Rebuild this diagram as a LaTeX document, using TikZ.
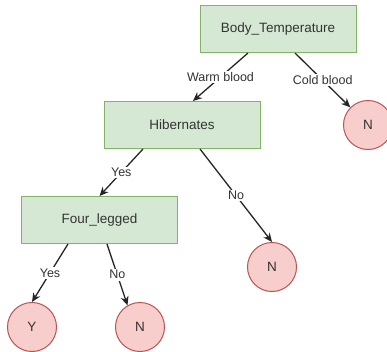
\documentclass[tikz,border=0pt]{standalone}
\usepackage{fontspec}
\setmainfont{Liberation Sans}
\usetikzlibrary{arrows.meta}
\definecolor{boxfill}{HTML}{D5E8D4}
\definecolor{boxline}{HTML}{82B366}
\definecolor{cfill}{HTML}{F8CECC}
\definecolor{cline}{HTML}{B85450}
\definecolor{txt}{HTML}{333333}
\tikzset{
  attr/.style={draw=boxline, fill=boxfill, line width=1pt, minimum width=156pt, minimum height=47pt, inner sep=0pt, text=txt, font=\fontsize{13.5pt}{16pt}\selectfont},
  leaf/.style={circle, draw=cline, fill=cfill, line width=1pt, minimum size=49pt, inner sep=0pt, text=txt, font=\fontsize{13.5pt}{16pt}\selectfont},
  edge/.style={draw=black!85, line width=1.3pt, -{Stealth[length=9pt,width=8pt]}},
  lbl/.style={fill=white, inner sep=1.5pt, text=txt, font=\fontsize{12.5pt}{14pt}\selectfont}
}
\begin{document}
\begin{tikzpicture}[x=1pt,y=-1pt]
\useasboundingbox (0,0) rectangle (387,351);
\node[attr] (body) at (278,29) {Body\_Temperature};
\node[attr] (hib) at (182,125) {Hibernates};
\node[attr] (fl) at (99.5,220) {Four\_legged};
\node[leaf] (n1) at (368,125) {N};
\node[leaf] (n2) at (272,267) {N};
\node[leaf] (y) at (32,327) {Y};
\node[leaf] (n3) at (140,327) {N};
\draw[edge] ([xshift=-30pt]body.south) -- node[lbl]{Warm blood} ([xshift=11pt]hib.north);
\draw[edge] ([xshift=17pt]body.south) -- node[lbl]{Cold blood} (n1.135);
\draw[edge] ([xshift=-39pt]hib.south) -- node[lbl]{Yes} (fl.north);
\draw[edge] ([xshift=18pt]hib.south) -- node[lbl]{No} (n2.north);
\draw[edge] ([xshift=-31.5pt]fl.south) -- node[lbl]{Yes} (y.north);
\draw[edge] ([xshift=7.5pt]fl.south) -- node[lbl]{No} (n3.120);
\end{tikzpicture}
\end{document}
